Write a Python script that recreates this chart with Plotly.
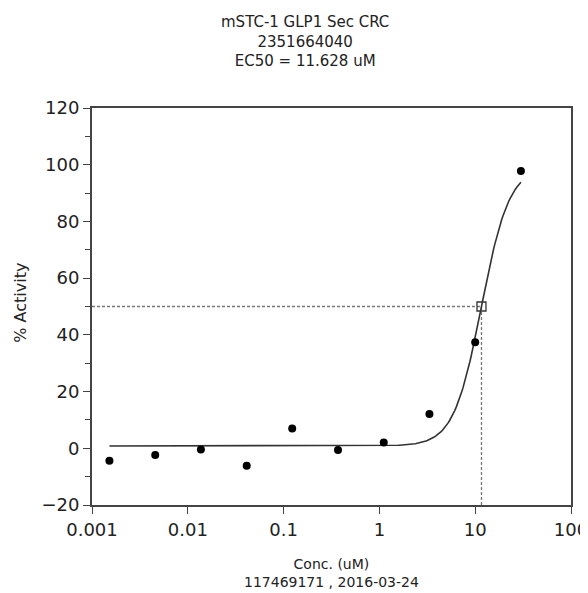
import numpy as np
import plotly.graph_objects as go

# measured points (3-fold dilution series)
conc = [0.00152, 0.00457, 0.0137, 0.0412, 0.123, 0.370, 1.11, 3.33, 10.0, 30.0]
activity = [-4.4, -2.4, -0.4, -6.2, 7.0, -0.6, 2.0, 12.1, 37.4, 97.8]

# 4PL fit parameters
bottom = 0.8
top = 99.2
ec50 = 11.628
hill = 3.0

x_ticks = [0.001, 0.01, 0.1, 1, 10, 100]
x_ticktext = ["0.001", "0.01", "0.1", "1", "10", "100"]
y_ticks = [-20, 0, 20, 40, 60, 80, 100, 120]

# smooth fitted curve across the tested range
xc = np.logspace(np.log10(conc[0]), np.log10(conc[-1]), 300)
yc = bottom + (top - bottom) / (1 + (ec50 / xc) ** hill)

fnt = "DejaVu Sans, Arial, sans-serif"
fig = go.Figure()

# EC50 guide lines
fig.add_trace(go.Scatter(x=[0.001, ec50, ec50], y=[50, 50, -20], mode="lines",
                         line=dict(color="#777777", width=1.3, dash="3px,2px"),
                         hoverinfo="skip"))
fig.add_trace(go.Scatter(x=xc, y=yc, mode="lines",
                         line=dict(color="#333333", width=1.6)))
fig.add_trace(go.Scatter(x=conc, y=activity, mode="markers",
                         marker=dict(color="black", size=8)))
fig.add_trace(go.Scatter(x=[ec50], y=[50], mode="markers",
                         marker=dict(symbol="square-open", color="#333333", size=9,
                                     line=dict(width=1.3))))

fig.update_xaxes(type="log", range=[-3, 2], tickvals=x_ticks, ticktext=x_ticktext,
                 ticks="outside", ticklen=7, tickcolor="#444", showline=True,
                 linecolor="#444", linewidth=2, mirror=True, showgrid=False,
                 zeroline=False, ticklabeloverflow="allow", automargin=False,
                 tickfont=dict(size=18, color="#222", family=fnt))
fig.update_yaxes(range=[-20, 120], tickvals=y_ticks, ticks="outside", ticklen=7,
                 tickcolor="#444", showline=True, linecolor="#444", linewidth=2,
                 mirror=True, showgrid=False, zeroline=False, automargin=False,
                 minor=dict(dtick=10, ticks="outside", ticklen=5, tickcolor="#444"),
                 tickfont=dict(size=18, color="#222", family=fnt))

fig.add_annotation(text="mSTC-1 GLP1 Sec CRC<br>2351664040<br>EC50 = 11.628 uM",
                   x=0.445, y=1.167, font=dict(size=15, color="#222", family=fnt))
fig.add_annotation(text="Conc. (uM)<br>117469171 , 2016-03-24",
                   x=0.5, y=-0.172, font=dict(size=14, color="#222", family=fnt))
fig.add_annotation(text="% Activity", x=-0.15, y=0.51, textangle=-90,
                   font=dict(size=16, color="#222", family=fnt))
fig.update_annotations(xref="paper", yref="paper", showarrow=False,
                       xanchor="center", yanchor="middle")

# page body adds 8px, so figure is a bit smaller than the window
fig.update_layout(width=580, height=585, showlegend=False,
                  margin=dict(l=84, r=17, t=100, b=88),
                  plot_bgcolor="white", paper_bgcolor="white")

fig.write_html("out.html")
